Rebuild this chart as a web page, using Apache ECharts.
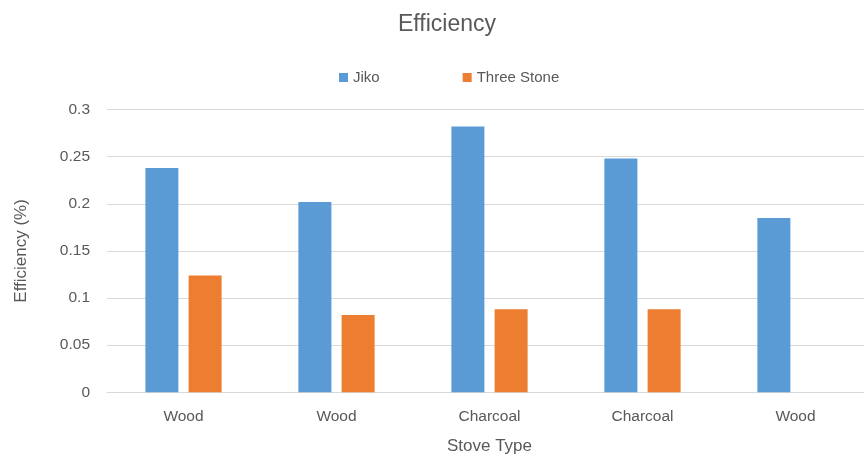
<!DOCTYPE html>
<html>
<head>
<meta charset="utf-8">
<script src="https://cdn.jsdelivr.net/npm/echarts@6/dist/echarts.min.js"></script>
<style>
  html, body { margin: 0; padding: 0; background: #ffffff; }
  #chart { width: 864px; height: 457px; }
</style>
</head>
<body>
<div id="chart"></div>
<script>
// Stove types along the x axis (one entry per tested stove)
const stoveTypes = ['Wood', 'Wood', 'Charcoal', 'Charcoal', 'Wood'];
// Measured efficiency per stove
const jikoEfficiency = [0.238, 0.202, 0.282, 0.248, 0.185];
const threeStoneEfficiency = [0.124, 0.082, 0.088, 0.088, null];
// Value axis ticks
const yTicks = [0, 0.05, 0.1, 0.15, 0.2, 0.25, 0.3];

const textColor = '#595959';
const fontFamily = '"Liberation Sans", Arial, sans-serif';

const chart = echarts.init(document.getElementById('chart'), null, { renderer: 'canvas' });

chart.setOption({
  animation: false,
  backgroundColor: '#ffffff',
  textStyle: { fontFamily: fontFamily, color: textColor },
  title: {
    text: 'Efficiency',
    left: 442,
    top: 8,
    textAlign: 'center',
    textStyle: { fontFamily: fontFamily, fontSize: 23, fontWeight: 'normal', color: textColor }
  },
  legend: {
    left: 334,
    top: 65,
    itemWidth: 9,
    itemHeight: 9,
    itemGap: 83,
    icon: 'rect',
    textStyle: { fontFamily: fontFamily, fontSize: 15, color: textColor },
    data: ['Jiko', 'Three Stone']
  },
  grid: {
    left: 107,
    right: -8,
    top: 109.5,
    bottom: 64.7,
    containLabel: false,
    outerBoundsMode: 'none'
  },
  xAxis: {
    type: 'category',
    data: stoveTypes,
    name: 'Stove Type',
    nameLocation: 'middle',
    nameGap: 46,
    nameTextStyle: { fontFamily: fontFamily, fontSize: 17, color: textColor },
    axisLine: { show: true, lineStyle: { color: '#d9d9d9', width: 1 } },
    axisTick: { show: false },
    axisLabel: { fontFamily: fontFamily, fontSize: 15.5, color: textColor, margin: 16 }
  },
  yAxis: {
    type: 'value',
    min: yTicks[0],
    max: yTicks[yTicks.length - 1],
    interval: yTicks[1] - yTicks[0],
    name: 'Efficiency (%)',
    nameLocation: 'middle',
    nameRotate: 90,
    nameGap: 77,
    nameTextStyle: { fontFamily: fontFamily, fontSize: 17, color: textColor },
    axisLine: { show: false },
    axisTick: { show: false },
    axisLabel: {
      fontFamily: fontFamily,
      fontSize: 15.5,
      color: textColor,
      margin: 17,
      formatter: function (v) { return String(parseFloat(v.toFixed(2))); }
    },
    splitLine: { show: true, lineStyle: { color: '#d9d9d9', width: 1 } }
  },
  series: [
    {
      name: 'Jiko',
      type: 'bar',
      data: jikoEfficiency,
      barWidth: 33,
      barGap: '31%',
      itemStyle: { color: '#5b9bd5' }
    },
    {
      name: 'Three Stone',
      type: 'bar',
      data: threeStoneEfficiency,
      barWidth: 33,
      itemStyle: { color: '#ed7d31' }
    }
  ]
});
</script>
</body>
</html>
